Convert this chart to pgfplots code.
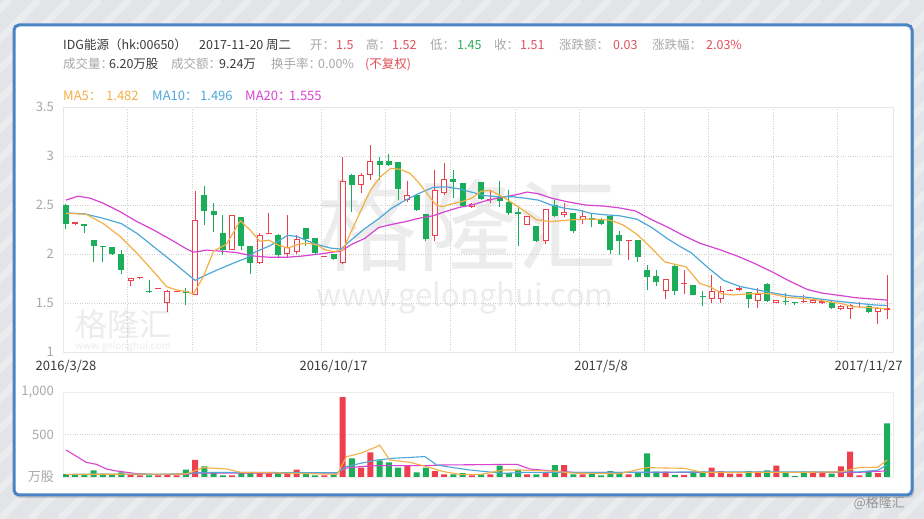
\documentclass[border=0pt]{standalone}
\usepackage{pgfplots}
\pgfplotsset{compat=1.18}
\usepackage{pgfplotstable}
\usepackage{fontspec}
\setmainfont{Noto Sans CJK SC}
\definecolor{upred}{HTML}{EE3F4C}
\definecolor{dngreen}{HTML}{1BAD5A}
\definecolor{ma5c}{HTML}{F4B046}
\definecolor{ma10c}{HTML}{4EA8DA}
\definecolor{ma20c}{HTML}{D744D2}
\definecolor{frameblue}{HTML}{4A84C4}
\definecolor{bggray}{HTML}{E2E4E7}
\definecolor{wm}{HTML}{ECECEC}
\definecolor{lbl}{HTML}{A8A8A8}
\definecolor{dark}{HTML}{3A3A3A}
\definecolor{gridc}{HTML}{CFCFCF}
\definecolor{axline}{HTML}{E6E6E6}
\definecolor{hdred}{HTML}{E0505A}
\definecolor{hdgreen}{HTML}{2DAA5C}

\pgfplotsset{candle/.style={only marks, mark=*, mark size=0pt, mark options={draw=none, fill=none}, forget plot}}

\pgfplotstableread{
i O H L C
1 2.31 2.32 2.30 2.32
7 1.72 1.75 1.67 1.75
8 1.75 1.76 1.75 1.76
10 1.64 1.65 1.64 1.65
11 1.50 1.63 1.41 1.62
12 1.61 1.62 1.61 1.62
14 1.58 2.64 1.58 2.35
18 2.04 2.40 2.04 2.40
21 1.91 2.21 1.90 2.19
22 2.20 2.42 2.20 2.21
24 2.00 2.40 1.97 2.07
25 2.02 2.19 2.00 2.15
28 1.97 1.98 1.97 1.98
30 1.91 2.99 1.90 2.74
32 2.70 2.83 2.62 2.81
33 2.81 3.11 2.76 2.95
37 2.55 2.74 2.53 2.60
40 2.18 2.86 2.13 2.65
41 2.62 2.93 2.60 2.77
44 2.48 2.52 2.47 2.51
46 2.55 2.65 2.52 2.56
50 2.30 2.39 2.30 2.39
52 2.13 2.46 2.10 2.46
54 2.40 2.52 2.38 2.43
56 2.35 2.45 2.31 2.39
61 2.13 2.14 1.94 2.14
65 1.62 1.74 1.54 1.74
67 1.69 1.84 1.59 1.70
70 1.54 1.79 1.50 1.62
71 1.54 1.67 1.50 1.62
72 1.62 1.64 1.62 1.63
73 1.63 1.66 1.62 1.65
75 1.52 1.65 1.45 1.59
77 1.50 1.53 1.50 1.53
80 1.51 1.58 1.50 1.52
81 1.50 1.54 1.50 1.53
82 1.50 1.53 1.49 1.52
84 1.44 1.48 1.43 1.47
85 1.44 1.49 1.34 1.48
86 1.49 1.51 1.45 1.50
88 1.41 1.46 1.29 1.45
89 1.43 1.79 1.34 1.45
}\redtab

\pgfplotstableread{
i O H L C
0 2.50 2.51 2.26 2.31
2 2.31 2.31 2.21 2.29
3 2.14 2.14 1.92 2.08
4 2.08 2.08 1.92 2.07
5 2.07 2.07 1.99 2.00
6 2.00 2.04 1.80 1.84
9 1.62 1.73 1.60 1.61
13 1.62 1.65 1.48 1.60
15 2.60 2.69 2.30 2.44
16 2.44 2.52 2.22 2.40
17 2.21 2.40 1.99 2.04
19 2.38 2.38 2.04 2.08
20 2.08 2.08 1.80 1.91
23 2.19 2.20 1.96 1.99
26 2.27 2.27 2.08 2.15
27 2.16 2.16 1.99 2.01
29 2.00 2.00 1.94 1.95
31 2.81 2.82 2.43 2.70
34 2.95 2.99 2.76 2.91
35 2.95 3.02 2.90 2.91
36 2.94 2.94 2.55 2.66
38 2.60 2.60 2.44 2.45
39 2.41 2.41 2.13 2.15
42 2.77 2.86 2.57 2.73
43 2.72 2.72 2.48 2.49
45 2.73 2.73 2.55 2.56
47 2.58 2.74 2.48 2.54
48 2.53 2.65 2.40 2.42
49 2.42 2.48 2.08 2.41
51 2.29 2.29 2.12 2.13
53 2.50 2.55 2.38 2.39
55 2.42 2.42 2.21 2.23
57 2.37 2.42 2.28 2.35
58 2.36 2.37 2.30 2.31
59 2.39 2.39 2.00 2.04
60 2.19 2.23 1.99 2.13
62 2.14 2.14 1.92 1.97
63 1.84 1.89 1.63 1.77
64 1.78 1.84 1.67 1.71
66 1.88 1.89 1.58 1.62
68 1.68 1.68 1.58 1.58
69 1.57 1.62 1.47 1.56
74 1.61 1.61 1.45 1.54
76 1.69 1.70 1.51 1.52
78 1.52 1.60 1.48 1.51
79 1.51 1.51 1.48 1.50
83 1.51 1.52 1.44 1.45
87 1.47 1.48 1.40 1.41
}\greentab

\pgfplotstableread{
i V
7 25
8 20
10 20
11 25
12 20
14 200
18 20
21 45
22 45
24 55
25 86
28 20
30 940
32 110
33 290
37 133
40 70
41 30
44 20
46 30
50 30
52 47
54 141
56 30
61 30
65 63
67 25
70 110
71 70
72 40
73 40
75 63
77 133
81 63
82 55
84 125
85 298
86 20
88 47
}\redvol

\pgfplotstableread{
i V
0 35
1 30
2 30
3 78
4 30
5 30
6 55
9 20
13 86
15 125
16 55
17 20
19 55
20 55
23 55
26 55
27 20
29 30
31 220
34 196
35 172
36 110
38 55
39 110
42 30
43 45
45 30
47 133
48 47
49 86
51 30
53 141
55 30
57 55
58 20
59 70
60 55
62 55
63 278
64 63
66 25
68 63
69 63
74 70
76 78
78 55
79 10
80 63
83 40
87 70
89 630
}\greenvol

\begin{document}
\begin{tikzpicture}
\begin{scope}[x=1pt,y=1pt]
\fill[bggray] (0,0) rectangle (924,519);
\begin{scope}
\clip (0,0) rectangle (924,519);
\foreach \k in {-540,-510,...,930} {
  \draw[white, opacity=0.3, line width=7pt] (\k,0) -- (\k+519,519);
}
\end{scope}
\fill[black, opacity=0.15, rounded corners=5pt] (15,21) rectangle (914,492);
\draw[frameblue, line width=3pt, fill=white, rounded corners=5pt] (14,24) rectangle (912,494);
% watermarks
\node[text=wm, font=\fontsize{100}{100}\selectfont, inner sep=0pt] at (467,294) {格隆汇};
\node[text=wm, font=\fontsize{31}{31}\selectfont, inner sep=0pt] at (465,221) {www.gelonghui.com};
\node[text=wm, font=\fontsize{32}{32}\selectfont, inner sep=0pt] at (123,195) {格隆汇};
\node[text=wm, font=\fontsize{10}{10}\selectfont, inner sep=0pt] at (123,172) {www.gelonghui.com};
\node[text=gray!85, font=\fontsize{13}{13}\selectfont, anchor=east, inner sep=0pt] at (905,16) {@格隆汇};
% header line 1
\begin{scope}[every node/.style={anchor=base west, inner sep=0pt, font=\fontsize{12.5}{12.5}\selectfont}]
\node[text=dark] at (63,469) {IDG能源（hk:00650）};
\node[text=dark] at (199,469) {2017-11-20 周二};
\node[text=lbl] at (310,469) {开：};
\node[text=hdred] at (336,469) {1.5};
\node[text=lbl] at (366,469) {高：};
\node[text=hdred] at (392,469) {1.52};
\node[text=lbl] at (430,469) {低：};
\node[text=hdgreen] at (457,469) {1.45};
\node[text=lbl] at (494,469) {收：};
\node[text=hdred] at (520,469) {1.51};
\node[text=lbl] at (559,469) {涨跌额：};
\node[text=hdred] at (613,469) {0.03};
\node[text=lbl] at (652,469) {涨跌幅：};
\node[text=hdred] at (706,469) {2.03\%};
% line 2
\node[text=lbl] at (63,450) {成交量：};
\node[text=dark] at (109,450) {6.20万股};
\node[text=lbl] at (171,450) {成交额：};
\node[text=dark] at (219,450) {9.24万};
\node[text=lbl] at (271,450) {换手率：};
\node[text=lbl] at (318,450) {0.00\%};
\node[text=hdred] at (365,450) {(不复权)};
\end{scope}
\begin{scope}[every node/.style={anchor=base west, inner sep=0pt, font=\fontsize{13}{13}\selectfont}]
\node[text=ma5c] at (63,418) {MA5：};
\node[text=ma5c] at (106,418) {1.482};
\node[text=ma10c] at (152,418) {MA10：};
\node[text=ma10c] at (200,418) {1.496};
\node[text=ma20c] at (245,418) {MA20：};
\node[text=ma20c] at (289,418) {1.555};
\end{scope}
\end{scope}

\begin{axis}[
  at={(63pt,167pt)}, anchor=south west, scale only axis,
  width=830pt, height=245pt,
  xmin=-0.325, xmax=89.65, ymin=1, ymax=3.5,
  axis line style={draw=axline},
  major tick length=0pt,
  ytick={1,1.5,2,2.5,3,3.5}, yticklabels={1,1.5,2,2.5,3,3.5},
  xtick={6.675,13.675,20.675,27.675,34.675,41.675,48.675,55.675,62.675,69.675,76.675,83.675},
  xticklabels={},
  xmajorgrids, ymajorgrids,
  grid style={gridc, dotted, line width=0.8pt},
  extra x ticks={0,29,58,87},
  extra x tick labels={2016/3/28,2016/10/17,2017/5/8,2017/11/27},
  extra x tick style={grid=none},
  yticklabel style={font=\fontsize{13}{13}\selectfont, text=lbl, anchor=east, inner sep=0pt, xshift=-9pt},
  xticklabel style={font=\fontsize{13}{13}\selectfont, text=dark, anchor=north, inner sep=0pt, yshift=-8pt},
]
% green candles
\addplot[candle,
  error bars/.cd, y dir=plus, y explicit, error mark=none,
  error bar style={line width=1pt, dngreen}]
  table[x=i, y=L, y error plus expr={\thisrow{H}-\thisrow{L}}] {\greentab};
\addplot[candle,
  error bars/.cd, y dir=plus, y explicit, error mark=none,
  error bar style={line width=6pt, dngreen}]
  table[x=i, y=C, y error plus expr={max(\thisrow{O}-\thisrow{C},0.014)}] {\greentab};
% red candles (hollow)
\addplot[candle,
  error bars/.cd, y dir=plus, y explicit, error mark=none,
  error bar style={line width=1pt, upred}]
  table[x=i, y=L, y error plus expr={\thisrow{H}-\thisrow{L}}] {\redtab};
\addplot[candle,
  error bars/.cd, y dir=plus, y explicit, error mark=none,
  error bar style={line width=6pt, upred}]
  table[x=i, y=O, y error plus expr={max(\thisrow{C}-\thisrow{O},0.014)}] {\redtab};
\addplot[candle,
  error bars/.cd, y dir=plus, y explicit, error mark=none,
  error bar style={line width=4pt, white}]
  table[x=i, y expr={\thisrow{O}+0.0102}, y error plus expr={max(\thisrow{C}-\thisrow{O}-0.0204,0)}] {\redtab};
% moving averages
\addplot[ma20c, line width=1.2pt, mark=none, line join=round] coordinates {
(0,2.55) (1.3,2.59) (2.6,2.57) (4,2.52) (5.9,2.43) (7.7,2.33) (9.5,2.245) (11.3,2.15) (13.1,2.05) (13.8,2.02) (14.3,2.024) (15.2,2.04) (16.7,2.03) (18.5,2.014) (20.3,1.98) (22.1,1.966) (23.9,1.966) (25.7,1.98) (27.5,2.0) (29.8,2.03) (31,2.10) (32.4,2.16) (33.9,2.27) (35.2,2.30) (36.8,2.33) (38.3,2.365) (39.8,2.39) (41.2,2.435) (42.6,2.475) (44,2.50) (45.4,2.54) (47,2.575) (48.6,2.60) (50,2.632) (51.2,2.615) (52.7,2.568) (54.3,2.534) (56.3,2.50) (58.4,2.488) (60,2.47) (61.7,2.44) (63.5,2.35) (65.3,2.27) (66.9,2.19) (68.7,2.11) (71,2.04) (73,1.97) (74.6,1.905) (76.5,1.82) (78.3,1.73) (80.3,1.64) (82,1.60) (83.8,1.578) (85.5,1.555) (87.5,1.54) (89,1.53)};
\addplot[ma10c, line width=1.2pt, mark=none, line join=round] coordinates {
(0,2.42) (2,2.41) (4,2.365) (6,2.31) (7.7,2.21) (9.5,2.075) (11.3,1.94) (13.1,1.80) (14,1.73) (14.8,1.77) (16.7,1.85) (18.5,1.92) (19.6,1.96) (20.5,2.02) (22,2.08) (23,2.13) (24,2.19) (25,2.18) (26.3,2.13) (27.3,2.095) (28.7,2.06) (29.8,2.05) (31,2.15) (32.4,2.26) (33.9,2.36) (35.2,2.46) (36.8,2.55) (38.3,2.62) (39.8,2.68) (41.2,2.685) (42.6,2.665) (44,2.63) (45.4,2.595) (46.8,2.585) (48.3,2.585) (49.7,2.57) (51.2,2.55) (52.6,2.50) (54.1,2.466) (55.5,2.449) (56.9,2.415) (58.4,2.40) (60,2.39) (61.9,2.355) (63.5,2.27) (65.3,2.15) (66.5,2.08) (67.8,2.01) (69.6,1.86) (71.3,1.73) (73.1,1.667) (75,1.633) (76.8,1.599) (78.6,1.572) (80.4,1.558) (82.2,1.535) (84,1.514) (85.8,1.497) (87.6,1.48) (89,1.475)};
\addplot[ma5c, line width=1.2pt, mark=none, line join=round] coordinates {
(0,2.415) (2.2,2.405) (4,2.313) (5.9,2.177) (7.7,2.007) (9.5,1.82) (10.9,1.667) (12,1.633) (13.1,1.616) (13.8,1.59) (14.9,1.77) (16,2.03) (17.4,2.10) (18.9,2.34) (20,2.24) (21,2.13) (22,2.14) (23,2.09) (24.1,2.06) (25.2,2.10) (26.3,2.11) (27.3,2.09) (28,2.045) (29,2.025) (30,2.04) (31,2.245) (32,2.45) (33,2.65) (34.1,2.79) (35.2,2.874) (36.2,2.864) (37.3,2.823) (38.3,2.721) (39.4,2.585) (40.1,2.50) (40.8,2.483) (41.8,2.51) (42.9,2.534) (44,2.57) (45,2.64) (46,2.65) (47.4,2.58) (49.2,2.47) (51,2.35) (52.5,2.33) (54.6,2.347) (56.8,2.358) (59,2.345) (60.4,2.296) (61.9,2.2) (63.4,2.066) (64.9,1.92) (66.2,1.89) (67.2,1.87) (68.1,1.77) (68.7,1.70) (69.8,1.667) (71.2,1.592) (72.3,1.582) (73.8,1.592) (75.2,1.599) (76.6,1.592) (78.1,1.558) (79.6,1.548) (81,1.538) (82.5,1.514) (83.9,1.497) (85.3,1.463) (86.8,1.456) (88.3,1.446) (89,1.44)};
\end{axis}

\begin{axis}[
  at={(63pt,42pt)}, anchor=south west, scale only axis,
  width=830pt, height=85pt,
  xmin=-0.325, xmax=89.65, ymin=0, ymax=1000,
  axis line style={draw=axline!70},
  major tick length=0pt,
  xtick=\empty,
  ytick={500}, yticklabels={500},
  ymajorgrids, grid style={gridc, dotted, line width=0.8pt},
  extra y ticks={0,1000}, extra y tick labels={万股,{1,000}},
  extra y tick style={grid=none},
  yticklabel style={font=\fontsize{13}{13}\selectfont, text=lbl, anchor=east, inner sep=0pt, xshift=-9pt},
]
\addplot[ybar, bar width=6pt, bar shift=0pt, fill=upred, draw=none] table[x=i, y=V] {\redvol};
\addplot[ybar, bar width=6pt, bar shift=0pt, fill=dngreen, draw=none] table[x=i, y=V] {\greenvol};
\addplot[ma20c, line width=1.1pt, mark=none] coordinates {
(0,318) (1.2,239) (2.2,172) (3.3,149) (4.4,94) (5.5,70) (6.6,55) (7.7,39) (9.5,31) (13,31) (14,45) (20,47) (29.4,47) (30,100) (31.9,122) (33.7,133) (39,133) (40.5,141) (48.9,149) (50.3,94) (52.8,70) (55,55) (60,55) (70,55) (80,55) (86,55) (88.6,70) (89,75)};
\addplot[ma10c, line width=1.1pt, mark=none] coordinates {
(0,31) (4,35) (10,31) (13,40) (15,55) (29.4,50) (30.4,122) (31.9,160) (33.7,200) (35.5,220) (38.9,240) (40.2,141) (42,110) (43.8,82) (47.4,43) (50,55) (60,55) (70,60) (80,60) (86,60) (88,80) (89,141)};
\addplot[ma5c, line width=1.1pt, mark=none] coordinates {
(0,31) (13,35) (14.9,110) (17.4,94) (18.9,55) (22,50) (29.4,31) (30.4,239) (31.9,278) (33.7,357) (34,376) (35.1,200) (37.3,172) (39.1,122) (40.9,63) (42.7,31) (45,31) (47.4,82) (48.9,82) (52.8,70) (55,45) (60,40) (63,110) (67,102) (69,55) (75,55) (80,55) (84,60) (86,112) (88,115) (89,200)};
\end{axis}
\end{tikzpicture}
\end{document}
